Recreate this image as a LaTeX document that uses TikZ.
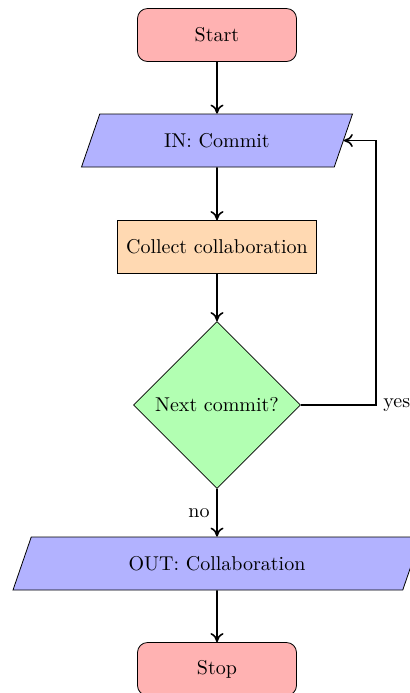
\documentclass[tikz,border=0pt]{standalone}
\usetikzlibrary{shapes.geometric,arrows.meta}

\tikzset{
  startstop/.style={rectangle, rounded corners=5pt, minimum width=79.5pt, minimum height=26.5pt,
    inner sep=0pt, draw=black, fill=red!30, text centered},
  io/.style={trapezium, trapezium left angle=71, trapezium right angle=109, trapezium stretches body,
    text height=7pt, text depth=0pt, inner xsep=0pt, inner ysep=9.75pt,
    draw=black, fill=blue!30, text centered},
  process/.style={rectangle, minimum width=99.5pt, minimum height=26.5pt, inner sep=0pt,
    draw=black, fill=orange!30, text centered},
  decision/.style={diamond, aspect=1, minimum width=83.5pt, minimum height=83.5pt, inner sep=0pt,
    draw=black, fill=green!30, text centered},
  arrow/.style={thick, -{To[length=4.5pt,width=6.5pt]}}
}

\begin{document}
\begin{tikzpicture}[x=0.5pt, y=-0.5pt]
  \useasboundingbox (0,0) rectangle (410,693);

  \node[startstop] (start) at (217,35) {Start};
  \node[io, minimum width=135.5pt] (in) at (217,140.5) {IN: Commit};
  \node[process] (collect) at (217,247) {Collect collaboration};
  \node[decision] (dec) at (217,405) {Next commit?};
  \node[io, minimum width=204pt] (out) at (217,563.5) {OUT: Collaboration};
  \node[startstop] (stop) at (217,669) {Stop};

  \coordinate (loop) at (376,405);

  \draw[arrow] (start) -- (in);
  \draw[arrow] (in) -- (collect);
  \draw[arrow] (collect) -- (dec);
  \draw[arrow] (dec) -- node[left] {no} (out);
  \draw[arrow] (out) -- (stop);
  \draw[arrow] (dec.east) -- (loop) node[right] {yes} |- (in.east);
\end{tikzpicture}
\end{document}
